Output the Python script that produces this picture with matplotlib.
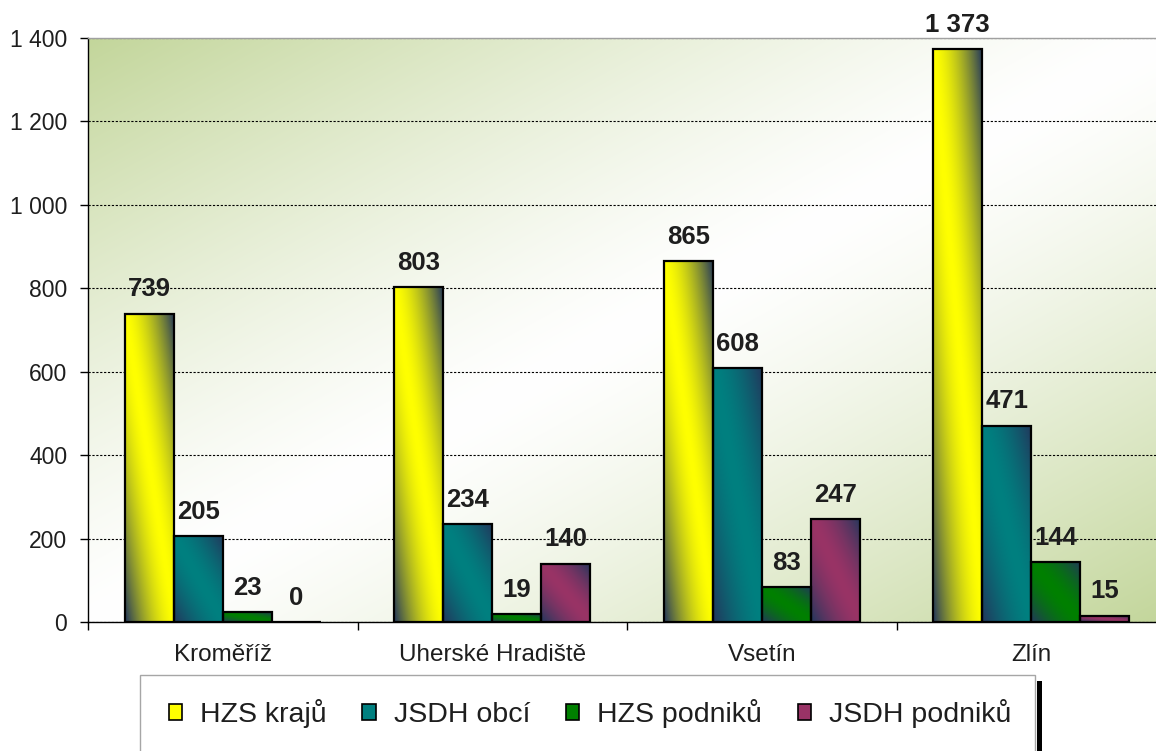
import numpy as np
import matplotlib

matplotlib.use("Agg")
import matplotlib.pyplot as plt
from matplotlib.colors import to_rgb
from matplotlib.patches import Patch, Rectangle
from matplotlib.ticker import FuncFormatter, FixedLocator

plt.rcParams["font.family"] = ["Liberation Sans", "DejaVu Sans"]

# data
districts = ["Kroměříž", "Uherské Hradiště", "Vsetín", "Zlín"]
series_names = ["HZS krajů", "JSDH obcí", "HZS podniků", "JSDH podniků"]
hzs_kraju = [739, 803, 865, 1373]
jsdh_obci = [205, 234, 608, 471]
hzs_podniku = [23, 19, 83, 144]
jsdh_podniku = [0, 140, 247, 15]
series = [hzs_kraju, jsdh_obci, hzs_podniku, jsdh_podniku]

colors = ["#ffff00", "#008080", "#008000", "#993366"]
DARK = "#22375c"
BG_GREEN = "#c3d69b"
TXT = "#1e1e1e"


def thousands(v, _=None):
    return f"{v:,.0f}".replace(",", " ")


def bar_gradient(base, n=80, p=1.6):
    # diagonal mirrored gradient: dark bottom-left & top-right, base in the middle
    u, v = np.meshgrid(np.linspace(0, 1, n), np.linspace(0, 1, n))
    s = np.abs(u + v - 1) ** p
    b, d = np.array(to_rgb(base)), np.array(to_rgb(DARK))
    return b * (1 - s[..., None]) + d * s[..., None]


def bg_gradient(n=200, p=1.3):
    u, v = np.meshgrid(np.linspace(0, 1, n), np.linspace(0, 1, n))
    s = np.abs(u - v) ** p
    w, g = np.ones(3), np.array(to_rgb(BG_GREEN))
    return w * (1 - s[..., None]) + g * s[..., None]


fig = plt.figure(figsize=(11.56, 7.51), dpi=100)
ax = fig.add_axes([88 / 1156, 129 / 751, 1078 / 1156, 584 / 751])

ax.imshow(bg_gradient(), extent=[0, 1, 0, 1], transform=ax.transAxes,
          origin="lower", aspect="auto", zorder=0, interpolation="bilinear")

x = np.arange(len(districts))
w = 0.182
for i, (vals, col) in enumerate(zip(series, colors)):
    bars = ax.bar(x + (i - 1.5) * w, vals, w, facecolor="none",
                  edgecolor="black", linewidth=1.6, zorder=3)
    grad = bar_gradient(col)
    for b, val in zip(bars, vals):
        if val > 0:
            im = ax.imshow(grad, origin="lower", aspect="auto", zorder=2.5,
                           interpolation="bilinear",
                           extent=[b.get_x(), b.get_x() + b.get_width(), 0, b.get_height()])
            im.set_clip_path(b)
        ax.annotate(thousands(val), (b.get_x() + b.get_width() / 2, val),
                    xytext=(0, 17.5), textcoords="offset points", ha="center",
                    va="center", fontsize=18.5, fontweight="bold", color=TXT)

ax.set_xlim(-0.5, len(districts) - 0.5)
ax.set_ylim(0, 1400)
ax.set_yticks(range(0, 1401, 200))
ax.yaxis.set_major_formatter(FuncFormatter(thousands))
ax.set_xticks(x)
ax.set_xticklabels(districts)
ax.xaxis.set_minor_locator(FixedLocator(np.arange(-0.5, len(districts), 1.0)))
ax.tick_params(axis="x", which="major", length=0, pad=16, labelsize=17.5, labelcolor=TXT)
ax.tick_params(axis="x", which="minor", length=6, width=1, direction="out")
ax.tick_params(axis="y", length=6, width=1, pad=9, labelsize=16.5, labelcolor=TXT)

ax.set_axisbelow(True)
ax.yaxis.grid(True, color="black", linestyle=(0, (2, 1.5)), linewidth=0.8, zorder=1)
for side in ["top", "right"]:
    ax.spines[side].set_color("#a0a0a0")
    ax.spines[side].set_linewidth(1)
for side in ["left", "bottom"]:
    ax.spines[side].set_color("black")
    ax.spines[side].set_linewidth(1)

# legend box with right shadow, cut off at the bottom like the source
fig.patches.append(Rectangle((1037 / 1156, -0.05), 5 / 1156, 0.05 + 70 / 751,
                             transform=fig.transFigure, facecolor="black",
                             edgecolor="none", zorder=1))
fig.patches.append(Rectangle((140 / 1156, -0.05), 895 / 1156, 0.05 + 76 / 751,
                             transform=fig.transFigure, facecolor="white",
                             edgecolor="#a6a6a6", linewidth=1, zorder=2))
handles = [Patch(facecolor=c, edgecolor="black", linewidth=1.2) for c in colors]
leg = fig.legend(handles, series_names, loc="center", ncol=4, frameon=False,
                 bbox_to_anchor=(590 / 1156, 37 / 751), fontsize=20.5,
                 handlelength=0.48, handleheight=0.48, handletextpad=0.62,
                 columnspacing=1.25)
for t in leg.get_texts():
    t.set_color(TXT)
leg.set_zorder(3)

fig.savefig("out.png", dpi=100)
